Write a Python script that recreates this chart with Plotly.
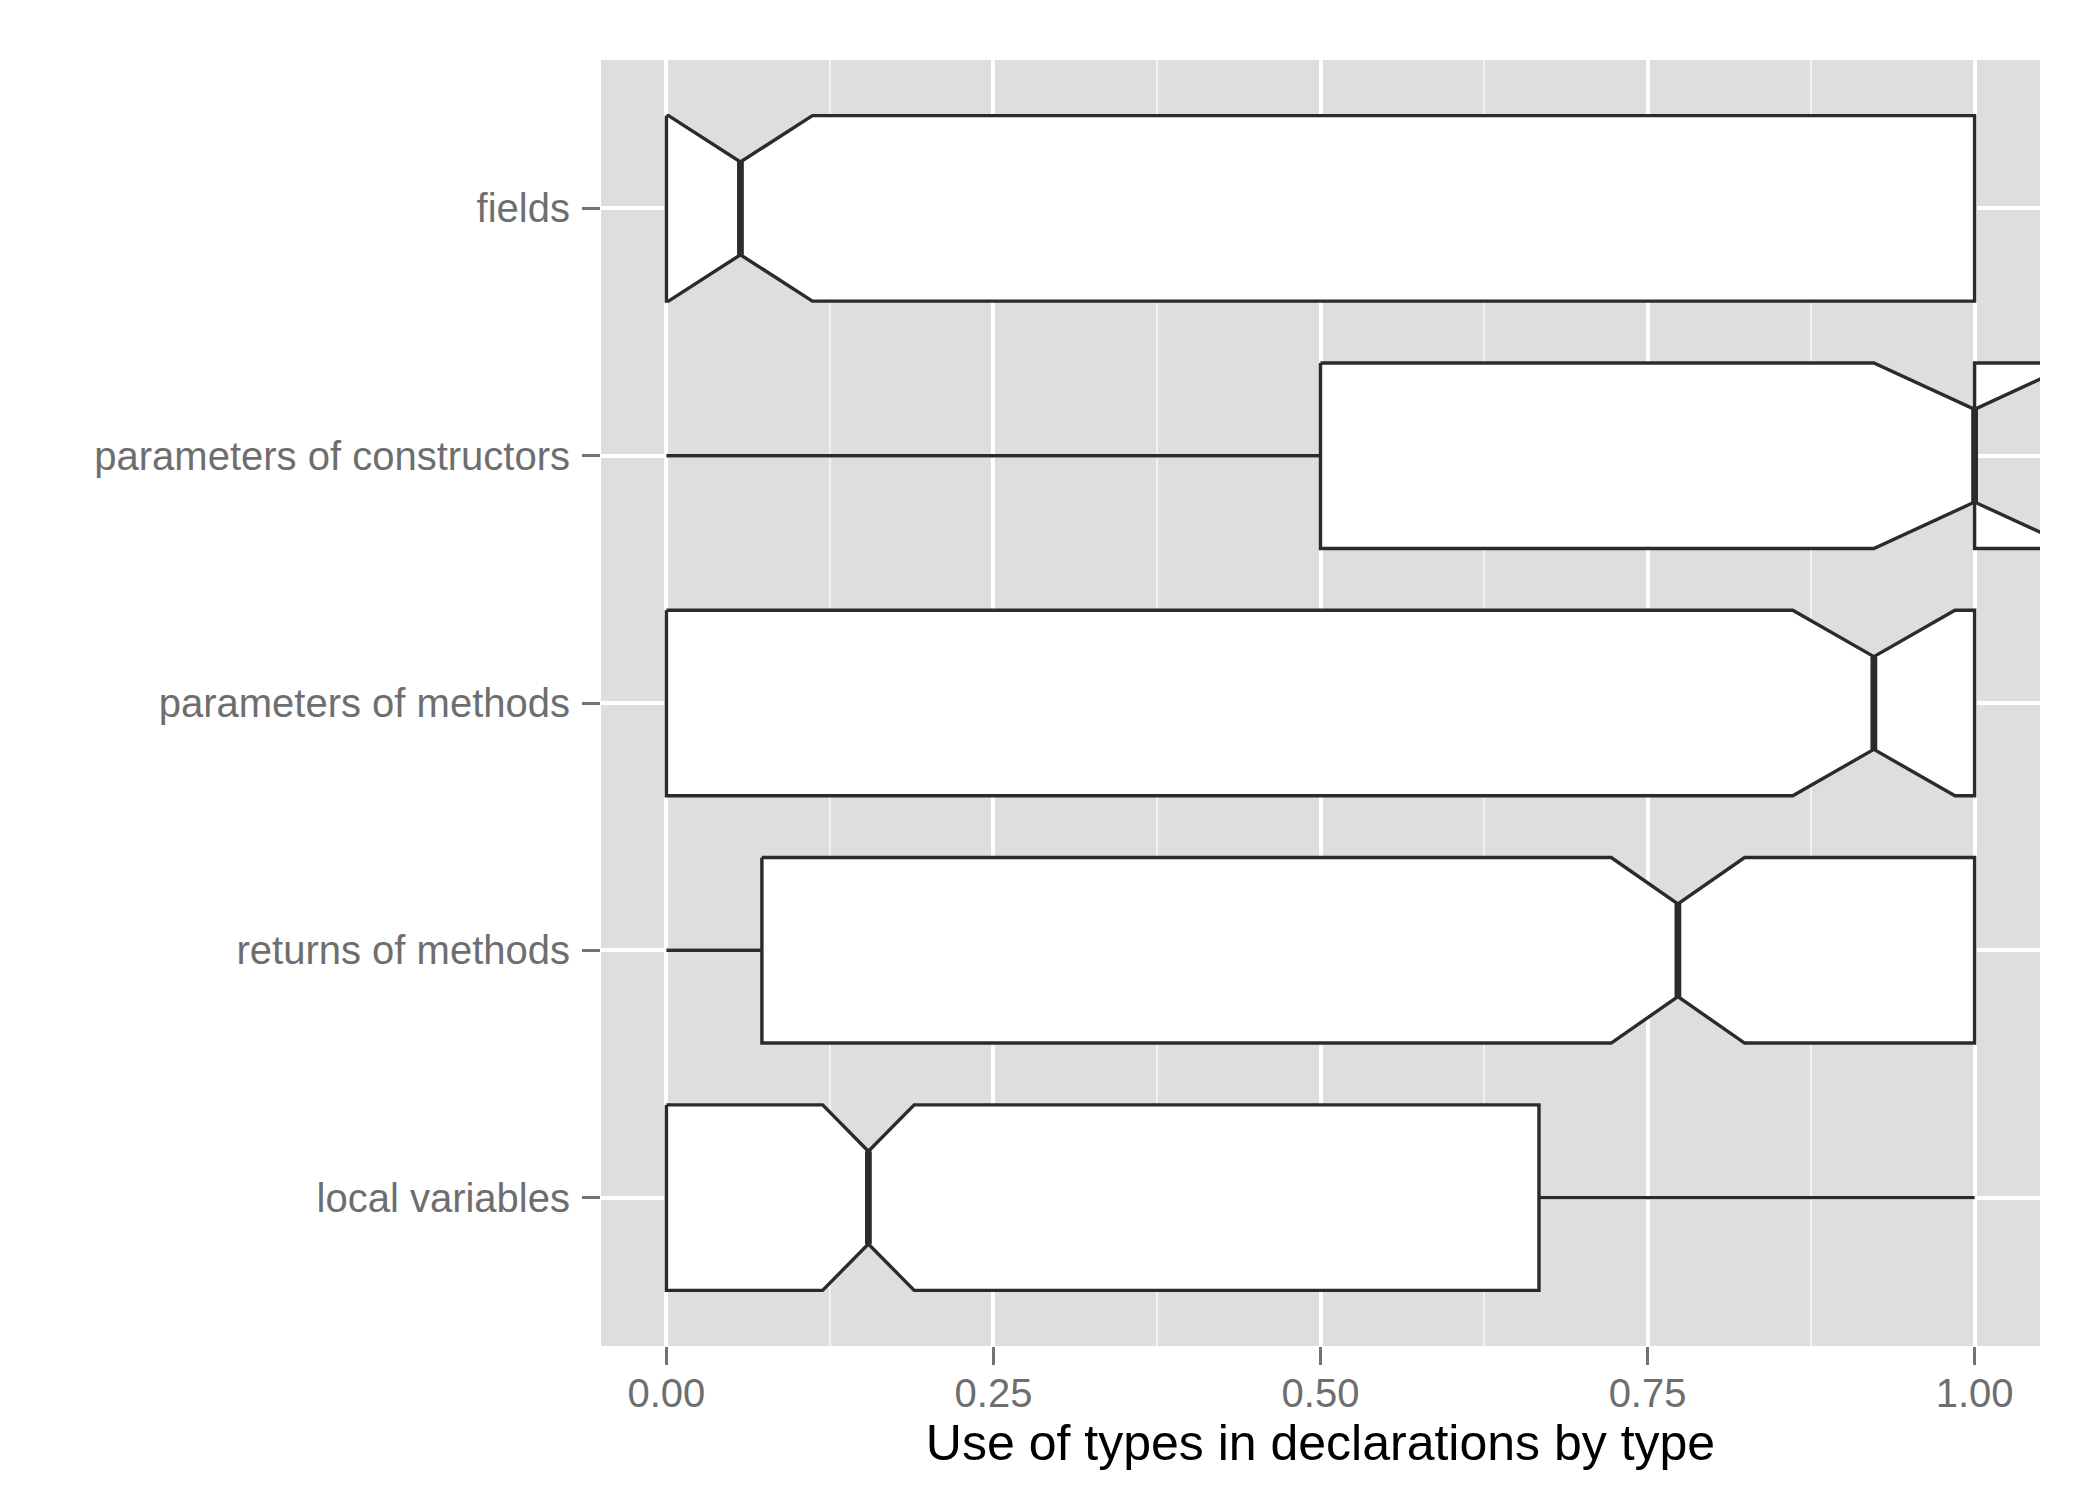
import plotly.graph_objects as go

# Categories (bottom to top)
categories = ["local variables", "returns of methods", "parameters of methods",
              "parameters of constructors", "fields"]
positions = [0, 1, 2, 3, 4]

lower_fence = [0.0, 0.0, 0.0, 0.0, 0.0]
q1 = [0.0, 0.073, 0.0, 0.5, 0.0]
median = [0.1544, 0.7732, 0.923, 1.0, 0.0566]
q3 = [0.667, 1.0, 1.0, 1.0, 1.0]
upper_fence = [1.0, 1.0, 1.0, 1.0, 1.0]
notch_span = [0.035, 0.051, 0.062, 0.077, 0.055]

x_ticks = [0.0, 0.25, 0.5, 0.75, 1.0]
x_tick_labels = ["0.00", "0.25", "0.50", "0.75", "1.00"]

BOX_WIDTH = 0.75
LINE = "#2B2B2B"
FONT = "Liberation Sans, Arial, Helvetica, sans-serif"
TICKCOL = "#6E6E6E"

fig = go.Figure()

half = BOX_WIDTH / 2
inset = BOX_WIDTH / 4

for p, lf, a, m, b, uf, ns in zip(positions, lower_fence, q1, median, q3,
                                  upper_fence, notch_span):
    # whiskers
    wx, wy = [], []
    if lf < a:
        wx += [lf, a, None]
        wy += [p, p, None]
    if uf > b:
        wx += [b, uf, None]
        wy += [p, p, None]
    if wx:
        fig.add_trace(go.Scatter(
            x=wx, y=wy, mode="lines",
            line=dict(color=LINE, width=3.4),
            showlegend=False, hoverinfo="skip",
        ))
    # notched box outline (ggplot-style polygon)
    nl, nu = m - ns, m + ns
    top, bot = p + half, p - half
    bx = [a, nl, m, nu, b, b, nu, m, nl, a, a]
    by = [top, top, top - inset, top, top, bot, bot, bot + inset, bot, bot, top]
    fig.add_trace(go.Scatter(
        x=bx, y=by, mode="lines", fill="toself", fillcolor="white",
        line=dict(color=LINE, width=3.4),
        showlegend=False, hoverinfo="skip",
    ))
    # thick median segment
    fig.add_trace(go.Scatter(
        x=[m, m], y=[p - (half - inset), p + (half - inset)], mode="lines",
        line=dict(color=LINE, width=6.8),
        showlegend=False, hoverinfo="skip",
    ))

fig.update_layout(
    width=2100, height=1500,
    margin=dict(l=601, r=60, t=60, b=154),
    paper_bgcolor="white",
    plot_bgcolor="#DEDEDE",
    font=dict(family=FONT),
)

fig.update_xaxes(
    range=[-0.05, 1.05],
    tickvals=x_ticks, ticktext=x_tick_labels,
    showgrid=True, gridcolor="white", gridwidth=4,
    minor=dict(tickvals=[0.125, 0.375, 0.625, 0.875], showgrid=True,
               gridcolor="#F2F2F2", gridwidth=2, ticks=""),
    ticks="outside", ticklen=18, tickwidth=3, tickcolor="#737373",
    tickfont=dict(size=40, color=TICKCOL, family=FONT),
    ticklabelstandoff=-6,
    zeroline=False, showline=False,
    title=dict(text="Use of types in declarations by type",
               font=dict(size=50, color="black", family=FONT), standoff=0),
)

fig.update_yaxes(
    range=[-0.6, 4.6],
    tickvals=positions, ticktext=categories,
    showgrid=True, gridcolor="white", gridwidth=4,
    ticks="outside", ticklen=18, tickwidth=3, tickcolor="#737373",
    tickfont=dict(size=40, color=TICKCOL, family=FONT),
    ticklabelstandoff=4,
    zeroline=False, showline=False,
)

fig.write_html("out.html")
